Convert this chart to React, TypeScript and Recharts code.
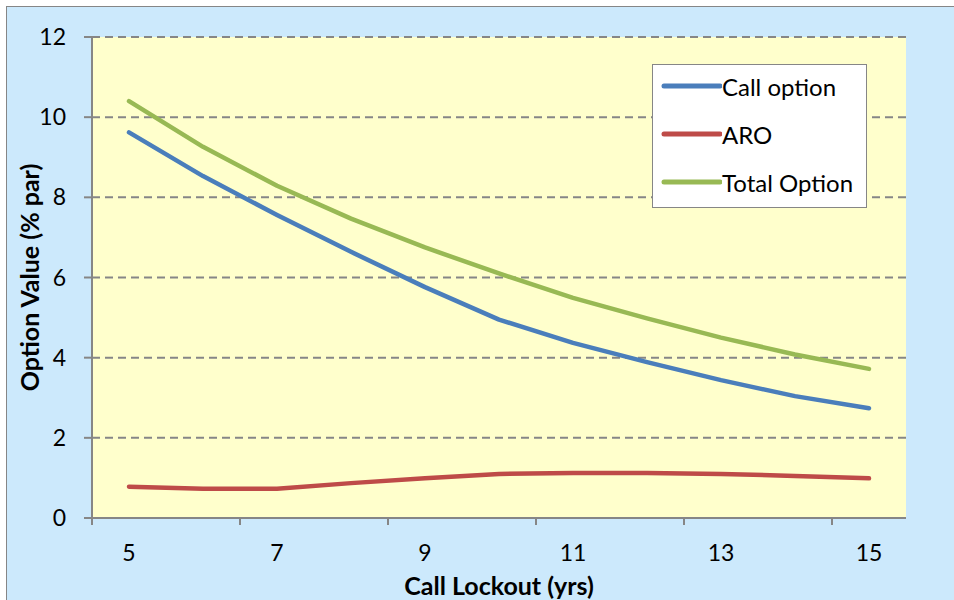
import React from 'react';
import { LineChart, Line, XAxis, YAxis, CartesianGrid, Legend } from 'recharts';

const years = [5, 6, 7, 8, 9, 10, 11, 12, 13, 14, 15];
const callOption = [9.62, 8.53, 7.56, 6.64, 5.76, 4.95, 4.37, 3.89, 3.44, 3.04, 2.74];
const aro = [0.78, 0.73, 0.73, 0.87, 0.99, 1.1, 1.12, 1.12, 1.1, 1.05, 0.99];
const totalOption = [10.4, 9.26, 8.29, 7.47, 6.75, 6.1, 5.49, 4.98, 4.5, 4.08, 3.72];

const seriesNames = ['Call option', 'ARO', 'Total Option'];
const xLabelTicks = [5, 7, 9, 11, 13, 15];
// tick marks sit on the category boundaries, between the labels
const xMarkTicks = [4.5, 6.5, 8.5, 10.5, 12.5, 14.5];
const yTicks = [0, 2, 4, 6, 8, 10, 12];

const data = years.map((year, i) => ({
  year,
  call: callOption[i],
  aro: aro[i],
  total: totalOption[i],
}));

const allXTicks = [...xMarkTicks, ...xLabelTicks].sort((a, b) => a - b);

const FONT = 'Lato, "Open Sans", sans-serif';
const GRAY = '#868686';

const XTick = (props: any) => {
  const { x, y, payload } = props;
  if (xMarkTicks.includes(payload.value)) {
    return <line x1={x} y1={y} x2={x} y2={y + 7} stroke={GRAY} strokeWidth={2} />;
  }
  return (
    <text x={x} y={y + 27} dy="0.71em" textAnchor="middle" fill="#000" fontSize={23}>
      {payload.value}
    </text>
  );
};

const LegendBox = (props: any) => {
  const payload = [...(props.payload || [])].sort(
    (a: any, b: any) => seriesNames.indexOf(a.value) - seriesNames.indexOf(b.value)
  );
  return (
    <div
      style={{
        width: 213,
        height: 142,
        background: '#ffffff',
        border: `1px solid ${GRAY}`,
        fontFamily: FONT,
        fontSize: 24,
        color: '#000',
        boxSizing: 'content-box',
      }}
    >
      <div style={{ position: 'relative', top: -3 }}>
        {payload.map((entry: any, i: number) => (
          <div key={i} style={{ display: 'flex', alignItems: 'center', height: 48 }}>
            <svg width={62} height={10} style={{ marginLeft: 7 }}>
              <line x1={4} y1={5} x2={60} y2={5} stroke={entry.color} strokeWidth={5} strokeLinecap="round" />
            </svg>
            <span>{entry.value}</span>
          </div>
        ))}
      </div>
    </div>
  );
};

export default function App() {
  return (
    <div
      style={{
        position: 'absolute',
        left: 6,
        top: 6,
        width: 960,
        height: 600,
        border: `1px solid ${GRAY}`,
        background: '#cce9fc',
      }}
    >
      <LineChart
        width={947}
        height={593}
        data={data}
        margin={{ top: 30, right: 48, left: 10, bottom: 7 }}
        style={{ fontFamily: FONT }}
      >
        <CartesianGrid
          vertical={false}
          stroke={GRAY}
          strokeWidth={2}
          strokeDasharray="8 5"
          fill="#ffffcc"
        />
        <XAxis
          dataKey="year"
          type="number"
          domain={[4.5, 15.5]}
          ticks={allXTicks}
          interval={0}
          height={75}
          axisLine={{ stroke: GRAY, strokeWidth: 2 }}
          tickLine={false}
          tickSize={0}
          tickMargin={0}
          tick={<XTick />}
          label={{
            value: 'Call Lockout (yrs)',
            position: 'insideBottom',
            offset: -2,
            style: { fontWeight: 'bold', fontSize: 25, fill: '#000' },
          }}
        />
        <YAxis
          domain={[0, 12]}
          ticks={yTicks}
          width={75}
          tickSize={8}
          tickMargin={18}
          axisLine={{ stroke: GRAY, strokeWidth: 2 }}
          tickLine={{ stroke: GRAY, strokeWidth: 2 }}
          tick={{ fill: '#000', fontSize: 23 }}
          label={{
            value: 'Option Value (% par)',
            angle: -90,
            position: 'insideLeft',
            offset: 13,
            style: { textAnchor: 'middle', fontWeight: 'bold', fontSize: 25, fill: '#000' },
          }}
        />
        <Legend
          content={<LegendBox />}
          wrapperStyle={{
            position: 'absolute',
            left: 645,
            top: 57,
            width: 0,
            height: 0,
            overflow: 'visible',
          }}
        />
        <Line
          name={seriesNames[0]}
          dataKey="call"
          stroke="#4a7ebb"
          strokeWidth={4.5}
          strokeLinecap="round"
          strokeLinejoin="round"
          dot={false}
          isAnimationActive={false}
        />
        <Line
          name={seriesNames[1]}
          dataKey="aro"
          stroke="#be4b48"
          strokeWidth={4.5}
          strokeLinecap="round"
          strokeLinejoin="round"
          dot={false}
          isAnimationActive={false}
        />
        <Line
          name={seriesNames[2]}
          dataKey="total"
          stroke="#98b954"
          strokeWidth={4.5}
          strokeLinecap="round"
          strokeLinejoin="round"
          dot={false}
          isAnimationActive={false}
        />
      </LineChart>
    </div>
  );
}
